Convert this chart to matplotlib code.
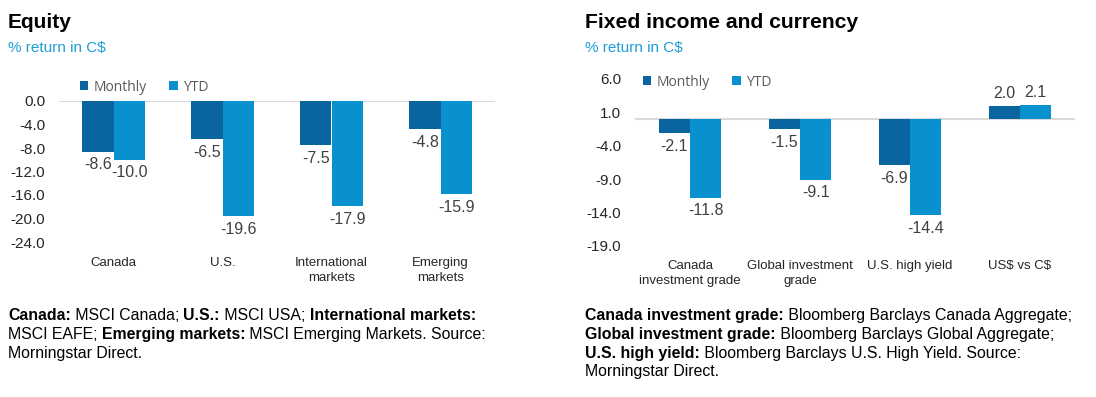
import matplotlib.pyplot as plt
import numpy as np

plt.rcParams['font.family'] = ['Liberation Sans', 'DejaVu Sans']

monthly_color = '#0A64A0'
ytd_color = '#0891CE'
sub_color = '#1E9ED6'
label_color = '#404040'

# Equity data
eq_cats = ['Canada', 'U.S.', 'International\nmarkets', 'Emerging\nmarkets']
eq_monthly = [-8.6, -6.5, -7.5, -4.8]
eq_ytd = [-10.0, -19.6, -17.9, -15.9]
eq_ticks = [0, -4, -8, -12, -16, -20, -24]

# Fixed income / currency data
fi_cats = ['Canada\ninvestment grade', 'Global investment\ngrade', 'U.S. high yield', 'US\\$ vs C\\$']
fi_monthly = [-2.1, -1.5, -6.9, 2.0]
fi_ytd = [-11.8, -9.1, -14.4, 2.1]
fi_ticks = [6, 1, -4, -9, -14, -19]

eq_notes = [
    [('Canada:', True), (' MSCI Canada; ', False), ('U.S.:', True), (' MSCI USA; ', False),
     ('International markets:', True)],
    [('MSCI EAFE; ', False), ('Emerging markets:', True), (' MSCI Emerging Markets. Source:', False)],
    [('Morningstar Direct.', False)],
]
fi_notes = [
    [('Canada investment grade:', True), (' Bloomberg Barclays Canada Aggregate;', False)],
    [('Global investment grade:', True), (' Bloomberg Barclays Global Aggregate;', False)],
    [('U.S. high yield:', True), (' Bloomberg Barclays U.S. High Yield. Source:', False)],
    [('Morningstar Direct.', False)],
]

fig = plt.figure(figsize=(10.96, 3.97), dpi=100)


def draw_panel(rect, cats, monthly, ytd, ticks, ylim, legend_anchor, xpad):
    ax = fig.add_axes(rect)
    x = np.arange(len(cats))
    w = 0.285
    b1 = ax.bar(x - w / 2, monthly, w, color=monthly_color, label='Monthly')
    b2 = ax.bar(x + w / 2, ytd, w, color=ytd_color, label='YTD')
    ax.axhline(0, color='#D9D9D9', linewidth=1.5, zorder=0)
    for bars, vals in ((b1, monthly), (b2, ytd)):
        for r, v in zip(bars, vals):
            off = 3.5 if v > 0 else -4
            ax.annotate(f'{v:.1f}', (r.get_x() + r.get_width() / 2, v),
                        xytext=(0, off), textcoords='offset points',
                        ha='center', va='bottom' if v > 0 else 'top',
                        fontsize=11.5, color=label_color)
    ax.set_xlim(-0.5, len(cats) - 0.5)
    ax.set_ylim(*ylim)
    ax.set_yticks(ticks)
    ax.set_yticklabels([f'{t:.1f}' for t in ticks], fontsize=11, color='#262626')
    ax.set_xticks(x)
    ax.set_xticklabels(cats, fontsize=9.5, color='#262626', linespacing=1.35)
    ax.tick_params(axis='y', length=0, pad=10)
    ax.tick_params(axis='x', length=0, pad=xpad)
    for s in ax.spines.values():
        s.set_visible(False)
    ax.legend(ncol=2, frameon=False, loc='center left', bbox_to_anchor=legend_anchor,
              borderpad=0, borderaxespad=0, handlelength=0.6, handleheight=0.6,
              handletextpad=0.4, columnspacing=1.6,
              prop={'family': 'Open Sans', 'size': 10}, labelcolor='#595959')
    return ax


def draw_notes(x0, y0, lines, dy=18.8):
    renderer = fig.canvas.get_renderer()
    W, H = fig.bbox.width, fig.bbox.height
    for i, segs in enumerate(lines):
        xp = x0
        yp = y0 + i * dy
        for txt, bold in segs:
            t = fig.text(xp / W, 1 - yp / H, txt, fontsize=11.4, va='baseline', ha='left',
                         fontweight='bold' if bold else 'normal', color='black')
            xp += t.get_window_extent(renderer).width


draw_panel([59 / 1096, 1 - 242 / 397, 436 / 1096, 141 / 397], eq_cats, eq_monthly, eq_ytd,
           eq_ticks, (-24, 0), (0.048, 1.099), 11)
draw_panel([635 / 1096, 1 - 246 / 397, 440 / 1096, 167 / 397], fi_cats, fi_monthly, fi_ytd,
           fi_ticks, (-19, 6), (0.018, 0.982), 10)

fig.text(8 / 1096, 1 - 28 / 397, 'Equity', fontsize=15, fontweight='bold', va='baseline')
fig.text(8 / 1096, 1 - 52 / 397, '% return in C\\$', fontsize=11, color=sub_color, va='baseline')
fig.text(585 / 1096, 1 - 28 / 397, 'Fixed income and currency', fontsize=15.2, fontweight='bold', va='baseline')
fig.text(585 / 1096, 1 - 52 / 397, '% return in C\\$', fontsize=11, color=sub_color, va='baseline')

draw_notes(8, 320, eq_notes)
draw_notes(585, 320, fi_notes)

fig.savefig('out.png', dpi=100)
